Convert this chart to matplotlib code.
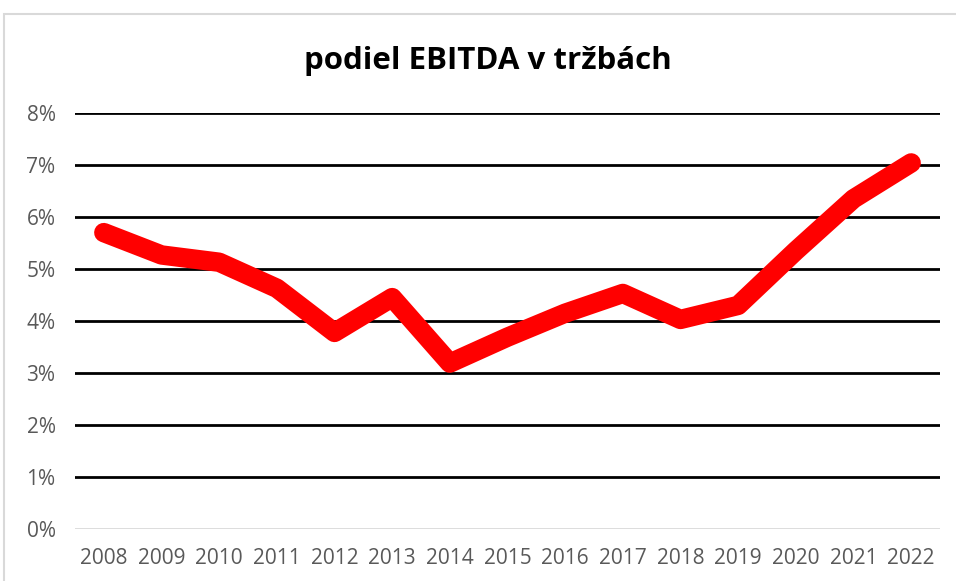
import matplotlib
matplotlib.use('Agg')
import matplotlib.pyplot as plt
from matplotlib.patches import Rectangle
from matplotlib.ticker import FuncFormatter

plt.rcParams['font.family'] = ['Open Sans', 'DejaVu Sans']

# podiel EBITDA v tržbách (v %)
roky = ['2008', '2009', '2010', '2011', '2012', '2013', '2014', '2015',
        '2016', '2017', '2018', '2019', '2020', '2021', '2022']
podiel = [5.70, 5.27, 5.13, 4.63, 3.78, 4.45, 3.19, 3.69,
          4.15, 4.53, 4.03, 4.30, 5.35, 6.35, 7.04]

fig = plt.figure(figsize=(9.56, 5.81), dpi=100)

# svetlosivý rámček okolo grafu
fig.patches.append(Rectangle((4 / 956, -0.05), 1.1, 1 - 14 / 581 + 0.05,
                             transform=fig.transFigure, fill=False,
                             edgecolor='#d9d9d9', linewidth=1.5))

ax = fig.add_axes([75 / 956, 1 - 529 / 581, (940 - 75) / 956, (529 - 113) / 581])

x = list(range(len(roky)))
hodnoty = [v / 100 for v in podiel]
ax.plot(x, hodnoty, color='#ff0000', linewidth=14, solid_capstyle='round',
        solid_joinstyle='round', zorder=3)

ax.set_xlim(-0.5, len(roky) - 0.5)
ax.set_ylim(0, 0.08)
ax.set_yticks([i / 100 for i in range(9)])
ax.yaxis.set_major_formatter(FuncFormatter(lambda v, _: f'{v * 100:.0f}%'))
ax.set_xticks(x)
ax.set_xticklabels(roky)

for i in range(1, 9):
    ax.axhline(i / 100, color='black', linewidth=2, zorder=1)
ax.axhline(0, color='#d9d9d9', linewidth=2, zorder=1)

for s in ax.spines.values():
    s.set_visible(False)
ax.tick_params(length=0, labelsize=15, colors='#595959')
ax.tick_params(axis='y', pad=14)
ax.tick_params(axis='x', pad=14)

fig.text(488 / 956, 1 - 61 / 581, 'podiel EBITDA v tržbách', ha='center', va='center',
         fontsize=22.5, fontweight='bold', family=['Open Sans', 'DejaVu Sans'])

fig.savefig('out.png', dpi=100)
